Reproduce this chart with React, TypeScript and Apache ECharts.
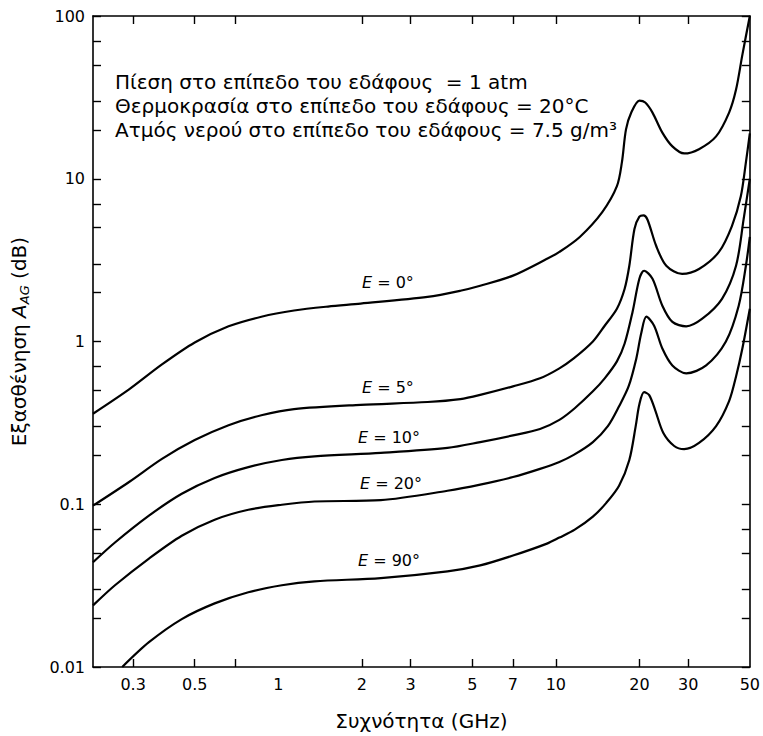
import React, { useEffect, useRef } from 'react';
import * as echarts from 'echarts';

const FONT = '"DejaVu Sans", Verdana, sans-serif';

// Axis ticks / labels
const xTickValues = [0.3, 0.5, 0.7, 2, 3, 5, 7, 10, 20, 30];
const xLabelValues = [0.3, 0.5, 1, 2, 3, 5, 7, 10, 20, 30, 50];
const yLabelValues = [0.01, 0.1, 1, 10, 100];
const yTickValues = [
  0.01, 0.02, 0.03, 0.05, 0.07, 0.1, 0.2, 0.3, 0.5, 0.7, 1, 2, 3, 5, 7, 10, 20, 30, 50, 70, 100,
];

// Elevation angle curves: frequency (GHz) and attenuation (dB)
const e0Freq = [0.215, 0.29, 0.381, 0.5, 0.662, 0.869, 1.14, 1.51, 1.98, 3.45, 4.53, 5.34, 7.01, 9.29, 10.3, 12.2, 14.7, 16.6, 17.3, 17.9, 18.7, 20.0, 21.0, 22.3, 24.2, 26.3, 29.0, 32.8, 37.8, 42.1, 44.6, 47.0, 50];
const e0Att = [0.36, 0.508, 0.723, 0.986, 1.24, 1.42, 1.55, 1.64, 1.71, 1.88, 2.05, 2.2, 2.54, 3.22, 3.55, 4.39, 6.24, 9.0, 12.6, 20.1, 25.5, 30.2, 29.4, 25.5, 19.2, 15.8, 14.3, 15.2, 18.2, 25.5, 35.3, 57.7, 100];

const e5Freq = [0.215, 0.29, 0.381, 0.5, 0.662, 0.869, 1.14, 1.98, 3.45, 4.53, 5.34, 7.01, 8.77, 10.3, 11.6, 13.6, 15.0, 16.6, 17.7, 18.4, 19.2, 20.0, 20.7, 21.4, 23.0, 25.0, 28.5, 32.8, 38.7, 43.1, 46.4, 48.4, 50];
const e5Att = [0.098, 0.137, 0.19, 0.248, 0.306, 0.352, 0.384, 0.408, 0.425, 0.443, 0.47, 0.53, 0.594, 0.684, 0.787, 1.0, 1.25, 1.59, 2.11, 2.92, 4.91, 5.85, 5.95, 5.6, 3.86, 2.92, 2.6, 2.79, 3.55, 5.12, 7.8, 12.6, 19];

const e10Freq = [0.215, 0.258, 0.342, 0.449, 0.59, 0.78, 1.03, 1.35, 2.34, 4.07, 5.34, 7.01, 8.77, 10.3, 11.7, 13.6, 15.0, 16.6, 17.7, 18.9, 20.0, 20.8, 22.3, 24.2, 26.3, 29.5, 33.7, 39.7, 44.6, 47.5, 50];
const e10Att = [0.044, 0.0582, 0.0851, 0.116, 0.145, 0.169, 0.187, 0.197, 0.207, 0.222, 0.241, 0.265, 0.29, 0.33, 0.389, 0.494, 0.594, 0.755, 0.972, 1.52, 2.43, 2.72, 2.43, 1.66, 1.32, 1.24, 1.38, 1.83, 2.92, 5.65, 10];

const e20Freq = [0.215, 0.258, 0.342, 0.449, 0.59, 0.78, 1.03, 1.35, 2.34, 4.07, 5.34, 7.01, 8.77, 10.3, 11.6, 13.6, 15.4, 16.9, 18.3, 19.5, 20.3, 21.2, 22.6, 24.2, 26.3, 29.5, 34.8, 41.0, 45.6, 48.4, 50];
const e20Att = [0.0239, 0.0318, 0.0464, 0.0641, 0.0804, 0.0925, 0.0993, 0.104, 0.106, 0.121, 0.132, 0.147, 0.165, 0.182, 0.201, 0.241, 0.302, 0.4, 0.531, 0.787, 1.12, 1.42, 1.25, 0.906, 0.713, 0.637, 0.713, 1.0, 1.66, 2.92, 4.4];

const e90Freq = [0.274, 0.342, 0.449, 0.59, 0.78, 1.03, 1.35, 2.34, 4.07, 5.34, 7.01, 9.29, 10.3, 11.7, 13.6, 15.2, 16.9, 18.4, 19.4, 20.0, 20.8, 21.7, 22.8, 24.4, 26.7, 29.0, 32.8, 37.8, 42.1, 44.6, 47.0, 50];
const e90Att = [0.01, 0.0142, 0.0197, 0.0246, 0.0288, 0.0318, 0.0336, 0.0352, 0.0387, 0.0421, 0.0484, 0.0573, 0.0624, 0.0698, 0.0839, 0.102, 0.13, 0.187, 0.302, 0.412, 0.488, 0.468, 0.379, 0.274, 0.228, 0.218, 0.238, 0.302, 0.43, 0.61, 0.906, 1.59];

const curves = [
  { name: 'E = 0°', freq: e0Freq, att: e0Att },
  { name: 'E = 5°', freq: e5Freq, att: e5Att },
  { name: 'E = 10°', freq: e10Freq, att: e10Att },
  { name: 'E = 20°', freq: e20Freq, att: e20Att },
  { name: 'E = 90°', freq: e90Freq, att: e90Att },
];

const curveLabels = [
  { angle: '0°', x: 362, y: 282 },
  { angle: '5°', x: 362, y: 387 },
  { angle: '10°', x: 358, y: 437 },
  { angle: '20°', x: 360, y: 483 },
  { angle: '90°', x: 358, y: 560 },
];

const noteLines = [
  'Πίεση στο επίπεδο του εδάφους  = 1 atm',
  'Θερμοκρασία στο επίπεδο του εδάφους = 20°C',
  'Ατμός νερού στο επίπεδο του εδάφους = 7.5 g/m³',
];

const X_MIN = 0.215;
const X_MAX = 50;
const Y_MIN = 0.01;
const Y_MAX = 100;

const fmt = (v: number) => String(Number(Number(v).toPrecision(6)));

export default function App() {
  const ref = useRef<HTMLDivElement>(null);

  useEffect(() => {
    if (!ref.current) return;
    const chart = echarts.init(ref.current, undefined, { renderer: 'svg' });

    const axisLine = { show: true, onZero: false, lineStyle: { color: '#000', width: 1.6 } };
    const tickStyle = { color: '#000', width: 1.4 };

    const xBase = {
      type: 'log' as const,
      min: X_MIN,
      max: X_MAX,
      axisLine,
      splitLine: { show: false },
      minorTick: { show: false },
      axisTick: { show: true, inside: true, length: 8, customValues: xTickValues, lineStyle: tickStyle },
    };
    const yBase = {
      type: 'log' as const,
      min: Y_MIN,
      max: Y_MAX,
      axisLine,
      splitLine: { show: false },
      minorTick: { show: false },
      axisTick: { show: true, inside: true, length: 8, customValues: yTickValues, lineStyle: tickStyle },
    };

    const option: any = {
      animation: false,
      backgroundColor: '#fff',
      grid: { left: 92, right: 13, top: 16, bottom: 66, containLabel: false },
      xAxis: [
        {
          ...xBase,
          position: 'bottom',
          axisLabel: {
            customValues: xLabelValues,
            formatter: fmt,
            color: '#000',
            fontSize: 16,
            fontFamily: FONT,
            margin: 9,
          },
          name: 'Συχνότητα (GHz)',
          nameLocation: 'middle',
          nameGap: 44,
          nameTextStyle: { color: '#000', fontSize: 20, fontFamily: FONT },
        },
        {
          ...xBase,
          position: 'top',
          axisLabel: { show: false },
        },
      ],
      yAxis: [
        {
          ...yBase,
          position: 'left',
          axisLabel: {
            customValues: yLabelValues,
            formatter: fmt,
            color: '#000',
            fontSize: 16,
            fontFamily: FONT,
            margin: 8,
          },
          name: '{n|Εξασθένηση }{a|A}{s|AG}{n| (dB)}',
          nameLocation: 'middle',
          nameGap: 62,
          nameRotate: 90,
          nameTextStyle: {
            color: '#000',
            fontFamily: FONT,
            rich: {
              n: { fontSize: 20, fontFamily: FONT, color: '#000', lineHeight: 24 },
              a: { fontSize: 20, fontFamily: FONT, color: '#000', fontStyle: 'italic', lineHeight: 24 },
              s: {
                fontSize: 13,
                fontFamily: FONT,
                color: '#000',
                fontStyle: 'italic',
                verticalAlign: 'bottom',
                lineHeight: 14,
                padding: [10, 0, 0, 0],
              },
            },
          },
        },
        {
          ...yBase,
          position: 'right',
          axisLabel: { show: false },
        },
      ],
      series: curves.map((c) => ({
        name: c.name,
        type: 'line',
        xAxisIndex: 0,
        yAxisIndex: 0,
        data: c.freq.map((f, i) => [f, c.att[i]]),
        showSymbol: false,
        symbol: 'none',
        smooth: 0.3,
        clip: true,
        lineStyle: { color: '#000', width: 2.2 },
        emphasis: { disabled: true },
      })),
      graphic: [
        ...noteLines.map((t, i) => ({
          type: 'text',
          x: 115,
          y: 82 + i * 24,
          style: {
            text: t,
            fill: '#000',
            font: `20px ${FONT}`,
            verticalAlign: 'middle',
            align: 'left',
          },
        })),
        ...curveLabels.map((l) => ({
          type: 'text',
          x: l.x,
          y: l.y,
          style: {
            text: `{i|E} = ${l.angle}`,
            verticalAlign: 'middle',
            align: 'left',
            rich: {
              i: { fontSize: 16, fontFamily: FONT, fontStyle: 'italic', fill: '#000' },
            },
            fill: '#000',
            fontSize: 16,
            fontFamily: FONT,
          },
        })),
      ],
    };

    chart.setOption(option);
    return () => chart.dispose();
  }, []);

  return (
    <div
      ref={ref}
      style={{ position: 'absolute', left: 0, top: 0, width: 763, height: 736, background: '#fff' }}
    />
  );
}
